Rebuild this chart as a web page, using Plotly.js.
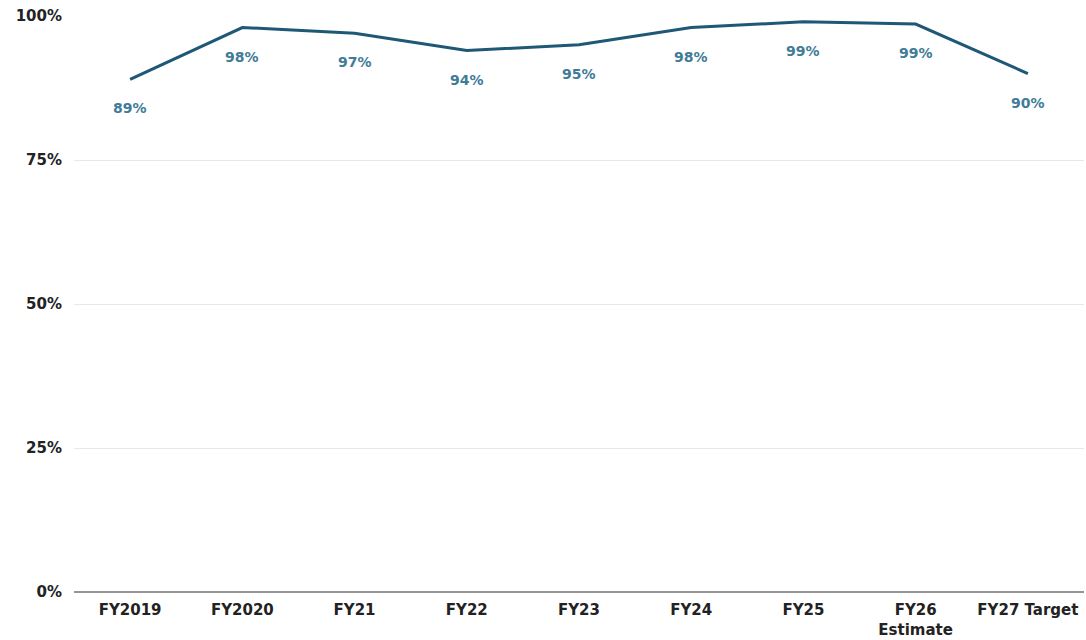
<!DOCTYPE html>
<html>
<head>
<meta charset="utf-8">
<script src="https://cdn.plot.ly/plotly-3.0.1.min.js"></script>
<style>html,body{margin:0;padding:0;background:#fff;}#chart{width:1086px;height:640px;}</style>
</head>
<body>
<div id="chart"></div>
<script>
const categories = ["FY2019", "FY2020", "FY21", "FY22", "FY23", "FY24", "FY25", "FY26<br>Estimate", "FY27 Target"];
const values = [89, 98, 97, 94, 95, 98, 99, 98.6, 90];
const yTickVals = [0, 25, 50, 75, 100];
const yTickText = ["0%", "25%", "50%", "75%", "100%"];

const trace = {
  x: categories,
  y: values,
  type: "scatter",
  mode: "lines",
  line: {color: "#1e5876", width: 3},
  hoverinfo: "skip"
};

const annotations = categories.map((c, i) => ({
  x: c, y: values[i], xref: "x", yref: "y",
  text: Math.round(values[i]) + "%",
  showarrow: false, yshift: -29, yanchor: "middle",
  font: {family: "DejaVu Sans", size: 14, color: "#3f7c98", weight: 700}
}));

const layout = {
  width: 1086, height: 640,
  margin: {l: 74, r: 2, t: 16, b: 48},
  paper_bgcolor: "#fff", plot_bgcolor: "#fff",
  showlegend: false,
  font: {family: "DejaVu Sans", size: 15, color: "#222"},
  xaxis: {
    type: "category", range: [-0.5, 8.5],
    showgrid: false, zeroline: false, showline: false, ticks: "",
    ticklabelstandoff: 7,
    tickfont: {family: "DejaVu Sans", size: 15, color: "#222", weight: 700},
    fixedrange: true
  },
  yaxis: {
    range: [0, 100], tickvals: yTickVals, ticktext: yTickText,
    showgrid: true, gridcolor: "#e8e8e8", gridwidth: 1,
    zeroline: true, zerolinecolor: "#949494", zerolinewidth: 1.8,
    ticks: "", ticklabelstandoff: 11,
    tickfont: {family: "DejaVu Sans", size: 15, color: "#222", weight: 700},
    fixedrange: true
  },
  annotations: annotations
};

Plotly.newPlot("chart", [trace], layout, {displayModeBar: false, staticPlot: true});
</script>
</body>
</html>
